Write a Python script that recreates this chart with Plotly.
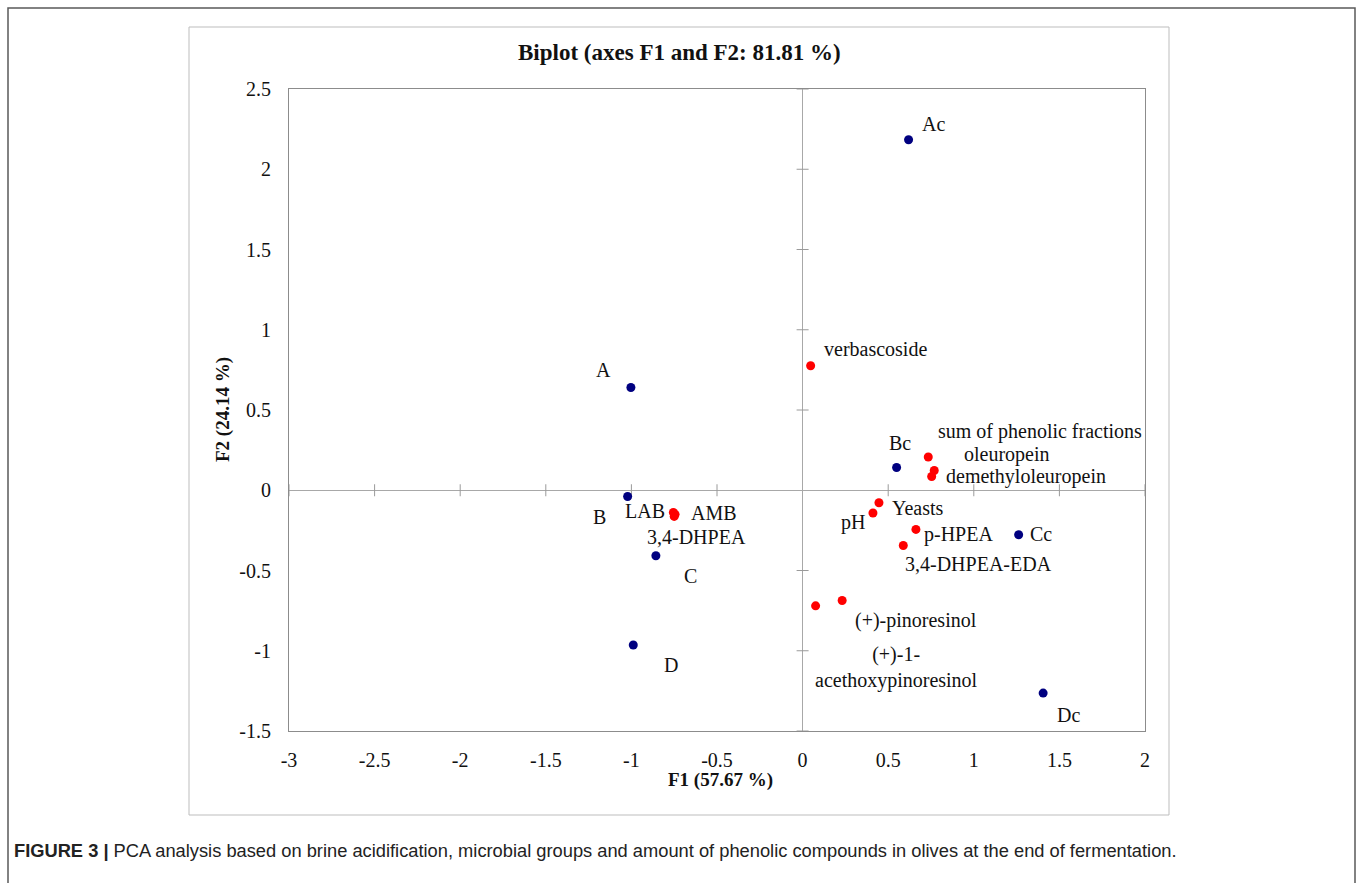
import plotly.graph_objects as go

# Observations (samples) in the F1/F2 plane
obs_names = ["A", "B", "C", "D", "Ac", "Bc", "Cc", "Dc"]
obs_f1 = [-1.003, -1.022, -0.857, -0.989, 0.619, 0.549, 1.262, 1.405]
obs_f2 = [0.640, -0.039, -0.408, -0.964, 2.184, 0.142, -0.277, -1.264]

# Variables in the F1/F2 plane
var_names = ["verbascoside", "sum of phenolic fractions", "oleuropein",
             "demethyloleuropein", "Yeasts", "pH", "p-HPEA", "3,4-DHPEA-EDA",
             "(+)-pinoresinol", "(+)-1-acethoxypinoresinol",
             "LAB", "AMB", "3,4-DHPEA"]
var_f1 = [0.047, 0.734, 0.769, 0.754, 0.446, 0.411, 0.662, 0.588,
          0.231, 0.076, -0.755, -0.745, -0.750]
var_f2 = [0.776, 0.207, 0.123, 0.086, -0.078, -0.142, -0.244, -0.344,
          -0.687, -0.720, -0.138, -0.150, -0.163]

x_ticks = [-3, -2.5, -2, -1.5, -1, -0.5, 0, 0.5, 1, 1.5, 2]
y_ticks = [-1.5, -1, -0.5, 0, 0.5, 1, 1.5, 2, 2.5]
x_ticktext = ["-3", "-2.5", "-2", "-1.5", "-1", "-0.5", "0", "0.5", "1", "1.5", "2"]
y_ticktext = ["-1.5", "-1", "-0.5", "0", "0.5", "1", "1.5", "2", "2.5"]

# Label placement: pixel offsets (dx right, dy up) of each label centre from its point
label_offsets = {
    "A": (-27, 18), "B": (-28, -20), "C": (35, -20), "D": (38, -20),
    "Ac": (25, 16), "Bc": (3, 24), "Cc": (22, 1), "Dc": (25, -22),
    "verbascoside": (65, 17), "sum of phenolic fractions": (112, 26),
    "oleuropein": (73, 16), "demethyloleuropein": (94, 0),
    "Yeasts": (39, -5), "pH": (-20, -9), "p-HPEA": (43, -5),
    "3,4-DHPEA-EDA": (75, -19), "(+)-pinoresinol": (74, -20),
    "(+)-1-acethoxypinoresinol": (81, -62),
    "LAB": (-28, 1), "AMB": (39, 1), "3,4-DHPEA": (22, -21),
}
label_text = {"(+)-1-acethoxypinoresinol": "(+)-1-<br>acethoxypinoresinol"}

W, H = 1358, 883
L, R, T, B = 289, 1145, 89, 731          # plot area in pixels
X_RANGE, Y_RANGE = [-3, 2], [-1.5, 2.5]
SERIF = "Liberation Serif, Times New Roman, serif"

def px(xp):
    return (xp - L) / (R - L)

def py(yp):
    return (B - yp) / (B - T)

fig = go.Figure()

# Tick marks crossing the zero lines
tick_len_x = 6 * (Y_RANGE[1] - Y_RANGE[0]) / (B - T)
tick_len_y = 6 * (X_RANGE[1] - X_RANGE[0]) / (R - L)
tx, ty = [], []
for v in x_ticks:
    if v != 0:
        tx += [v, v, None]
        ty += [-tick_len_x, tick_len_x, None]
for v in y_ticks:
    if v != 0:
        tx += [-tick_len_y, tick_len_y, None]
        ty += [v, v, None]
fig.add_trace(go.Scatter(x=tx, y=ty, mode="lines",
                         line=dict(color="#9a9a9a", width=1),
                         hoverinfo="skip", showlegend=False))

fig.add_trace(go.Scatter(x=obs_f1, y=obs_f2, mode="markers", text=obs_names,
                         marker=dict(color="#000080", size=9),
                         showlegend=False))
fig.add_trace(go.Scatter(x=var_f1, y=var_f2, mode="markers", text=var_names,
                         marker=dict(color="#ff0000", size=9),
                         showlegend=False))

for names, xs, ys in ((obs_names, obs_f1, obs_f2), (var_names, var_f1, var_f2)):
    for n, xv, yv in zip(names, xs, ys):
        dx, dy = label_offsets[n]
        fig.add_annotation(x=xv, y=yv, text=label_text.get(n, n), showarrow=False,
                           xshift=dx, yshift=dy, xanchor="center", yanchor="middle",
                           font=dict(family=SERIF, size=20, color="#111"))

# Titles and caption
fig.add_annotation(x=px(679), y=py(52), xref="paper", yref="paper",
                   text="<b>Biplot (axes F1 and F2: 81.81 %)</b>", showarrow=False,
                   xanchor="center", yanchor="middle",
                   font=dict(family=SERIF, size=23, color="#111"))
fig.add_annotation(x=px(720), y=py(780), xref="paper", yref="paper",
                   text="<b>F1 (57.67 %)</b>", showarrow=False,
                   xanchor="center", yanchor="middle",
                   font=dict(family=SERIF, size=19, color="#111"))
fig.add_annotation(x=px(223), y=py(410), xref="paper", yref="paper",
                   text="<b>F2 (24.14 %)</b>", showarrow=False, textangle=-90,
                   xanchor="center", yanchor="middle",
                   font=dict(family=SERIF, size=19, color="#111"))
fig.add_annotation(x=px(12), y=py(850), xref="paper", yref="paper",
                   text="<b>FIGURE 3 |</b> PCA analysis based on brine acidification, "
                        "microbial groups and amount of phenolic compounds in olives "
                        "at the end of fermentation.",
                   showarrow=False, xanchor="left", yanchor="middle",
                   font=dict(family="Liberation Sans, Arial, sans-serif", size=18.3,
                             color="#222"))

# Outer figure frame (open at the bottom) and chart box
fig.add_shape(type="path", xref="paper", yref="paper",
              path=f"M {px(8)},{py(900)} L {px(8)},{py(8)} L {px(1355)},{py(8)} "
                   f"L {px(1355)},{py(900)}",
              line=dict(color="#5a5a5a", width=1.5))
fig.add_shape(type="rect", xref="paper", yref="paper",
              x0=px(189), y0=py(815), x1=px(1169), y1=py(27),
              line=dict(color="#bdbdbd", width=1))

axis_common = dict(showgrid=False, zeroline=True, zerolinecolor="#a8a8a8",
                   zerolinewidth=1, showline=True, mirror=True,
                   linecolor="#8c8c8c", linewidth=1, ticks="outside",
                   tickcolor="rgba(0,0,0,0)",
                   tickfont=dict(family=SERIF, size=20, color="#111"))
fig.update_xaxes(range=X_RANGE, tickvals=x_ticks, ticktext=x_ticktext,
                 ticklen=11, **axis_common)
fig.update_yaxes(range=Y_RANGE, tickvals=y_ticks, ticktext=y_ticktext,
                 ticklen=13, **axis_common)

fig.update_layout(width=W, height=H, plot_bgcolor="white", paper_bgcolor="white",
                  margin=dict(l=L, r=W - R, t=T, b=H - B), showlegend=False)

fig.write_html("out.html")
